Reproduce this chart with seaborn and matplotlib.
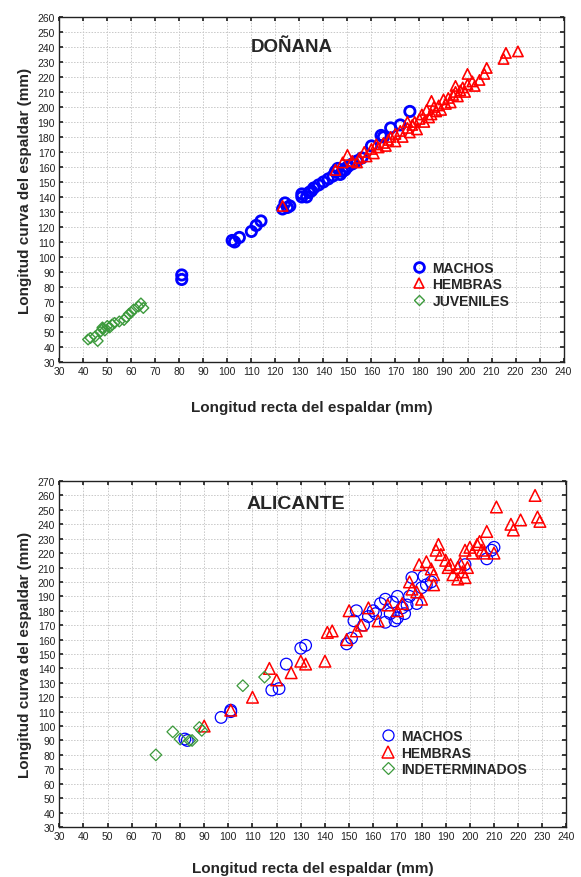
import matplotlib
matplotlib.use("Agg")
import matplotlib.pyplot as plt
import seaborn as sns
import pandas as pd

# ---------------- DATA: Doñana ----------------
don_juv_x = [42, 43, 45, 46, 47, 48, 48, 49, 50, 51, 52, 53, 55, 57, 58, 59, 60, 61, 63, 64, 65]
don_juv_y = [45, 46, 47, 44, 50, 52, 53, 51, 54, 53, 55, 56, 57, 58, 60, 62, 63, 65, 67, 69, 66]

don_mac_x = [81, 81, 102, 103, 105, 110, 112, 114, 123, 124, 125, 126, 131, 131, 133, 134, 135, 136,
             138, 140, 142, 144, 145, 146, 148, 150, 152, 154, 156, 160, 164, 168, 172,
             176, 165, 147, 149]
don_mac_y = [85, 88, 111, 110, 113, 117, 121, 124, 132, 136, 133, 134, 140, 142, 140, 143, 144, 146,
             148, 150, 152, 154, 157, 159, 157, 160, 162, 164, 166, 174, 181, 186, 188,
             197, 180, 155, 158]

don_hem_x = [123, 145, 148, 150, 152, 154, 155, 157, 158, 160, 161, 162, 163, 165, 166, 167, 168, 170,
             170, 172, 173, 175, 176, 177, 178, 179, 180, 181, 182, 183, 184, 185, 186, 187, 188, 189,
             190, 191, 192, 193, 194, 195, 196, 197, 198, 199, 200, 200, 202, 203, 205, 207, 208, 215,
             216, 221, 185, 175, 195]
don_hem_y = [134, 158, 163, 168, 164, 163, 166, 170, 167, 172, 169, 175, 173, 176, 174, 178, 180, 182,
             177, 184, 180, 186, 183, 188, 190, 185, 192, 195, 190, 198, 193, 195, 200, 197, 201, 198,
             205, 202, 206, 203, 208, 210, 207, 211, 213, 210, 222, 215, 217, 214, 218, 222, 226, 232,
             236, 237, 204, 190, 214]

# ---------------- DATA: Alicante ----------------
ali_ind_x = [70, 77, 80, 84, 85, 88, 89, 106, 115]
ali_ind_y = [80, 96, 91, 90, 90, 99, 97, 128, 134]

ali_mac_x = [82, 83, 97, 101, 101, 118, 121, 124, 130, 132, 149, 151, 152, 153, 156, 158, 160, 163,
             165, 165, 167, 168, 170, 170, 172, 173, 174, 175, 176, 178, 180, 181, 182, 184, 198, 207,
             209, 210, 161, 169]
ali_mac_y = [91, 90, 106, 110, 111, 125, 126, 143, 154, 156, 157, 161, 173, 180, 170, 176, 180, 185,
             172, 188, 178, 186, 190, 175, 182, 178, 184, 190, 203, 185, 196, 204, 198, 200, 212, 216,
             222, 224, 178, 173]

ali_hem_x = [90, 101, 110, 117, 120, 126, 130, 132, 140, 141, 143, 149, 150, 153, 155, 158, 162, 166,
             170, 172, 175, 176, 178, 179, 180, 182, 184, 185, 186, 187, 188, 190, 191, 192, 193, 195,
             195, 196, 198, 198, 199, 200, 201, 203, 204, 205, 206, 207, 210, 211, 217, 218, 221, 227,
             228, 229, 197, 185]
ali_hem_y = [100, 111, 120, 140, 132, 137, 145, 143, 145, 165, 166, 160, 180, 166, 170, 182, 173, 184,
             180, 185, 200, 195, 193, 212, 188, 214, 209, 205, 222, 226, 219, 215, 210, 212, 205, 202,
             210, 213, 203, 222, 210, 224, 220, 226, 228, 222, 220, 235, 220, 252, 240, 236, 243, 260,
             245, 242, 207, 198]

x_ticks = list(range(30, 241, 10))

BLUE = "#0000ff"
RED = "#ff0000"
GREEN = "#3c9a3c"

def build(groups):
    rows = []
    for name, xs, ys in groups:
        for a, b in zip(xs, ys):
            rows.append((name, a, b))
    return pd.DataFrame(rows, columns=["grupo", "x", "y"])

sns.set_theme(style="white")
plt.rcParams['font.family'] = ['Liberation Sans', 'DejaVu Sans']

fig = plt.figure(figsize=(5.81, 8.78), dpi=100)
ax1 = fig.add_axes([0.102, 0.5866, 0.868, 0.3930])
ax2 = fig.add_axes([0.102, 0.0570, 0.873, 0.3940])

def panel(ax, df, specs, ylim, yt, title, title_xy, title_size, legend_anchor, xpad):
    handles = []
    for name, marker, color, size, lw in specs:
        sub = df[df["grupo"] == name]
        n_before = len(ax.collections)
        sns.scatterplot(data=sub, x="x", y="y", marker=marker, s=size, ax=ax,
                        color=color, linewidth=lw, legend=False)
        coll = ax.collections[n_before]
        coll.set_facecolor("none")
        coll.set_edgecolor(color)
        coll.set_linewidth(lw)
        handles.append(plt.Line2D([], [], linestyle="none", marker=marker, markersize=size ** 0.5 * 0.95,
                                  markerfacecolor="none", markeredgecolor=color,
                                  markeredgewidth=lw, label=name))
    ax.set_xlim(30, 240)
    ax.set_ylim(*ylim)
    ax.set_xticks(x_ticks)
    ax.set_yticks(yt)
    ax.tick_params(axis="both", labelsize=7.5, colors="#222222", direction="in",
                   length=3, top=True, right=True, bottom=True, left=True, pad=3)
    ax.grid(True, color="#c8c8c8", linestyle=(0, (1.5, 1.5)), linewidth=0.7)
    for sp in ax.spines.values():
        sp.set_color("#222222")
        sp.set_linewidth(1.0)
        sp.set_visible(True)
    ax.set_xlabel("Longitud recta del espaldar (mm)", fontsize=11, fontweight="bold", labelpad=xpad)
    ax.set_ylabel("Longitud curva del espaldar (mm)", fontsize=11, fontweight="bold", labelpad=4)
    ax.text(title_xy[0], title_xy[1], title, fontsize=title_size, fontweight="bold",
            transform=ax.transAxes, ha="left", va="center")
    ax.legend(handles=handles, loc="upper left", bbox_to_anchor=legend_anchor,
              frameon=False, prop={"weight": "bold", "size": 10},
              handletextpad=0.4, labelspacing=0.2, borderaxespad=0, handlelength=1.2)

df1 = build([("MACHOS", don_mac_x, don_mac_y), ("HEMBRAS", don_hem_x, don_hem_y),
             ("JUVENILES", don_juv_x, don_juv_y)])
panel(ax1, df1,
      [("MACHOS", "o", BLUE, 55, 2.0), ("HEMBRAS", "^", RED, 55, 1.2), ("JUVENILES", "D", GREEN, 30, 1.0)],
      (30, 260), list(range(30, 261, 10)), "DOÑANA", (0.38, 0.915), 13.5, (0.685, 0.31), 17)

df2 = build([("MACHOS", ali_mac_x, ali_mac_y), ("HEMBRAS", ali_hem_x, ali_hem_y),
             ("INDETERMINADOS", ali_ind_x, ali_ind_y)])
panel(ax2, df2,
      [("MACHOS", "o", BLUE, 70, 0.9), ("HEMBRAS", "^", RED, 70, 1.1), ("INDETERMINADOS", "D", GREEN, 35, 0.9)],
      (30, 270), list(range(30, 271, 10)), "ALICANTE", (0.37, 0.935), 14, (0.62, 0.30), 14)

fig.savefig("out.png", dpi=100)
